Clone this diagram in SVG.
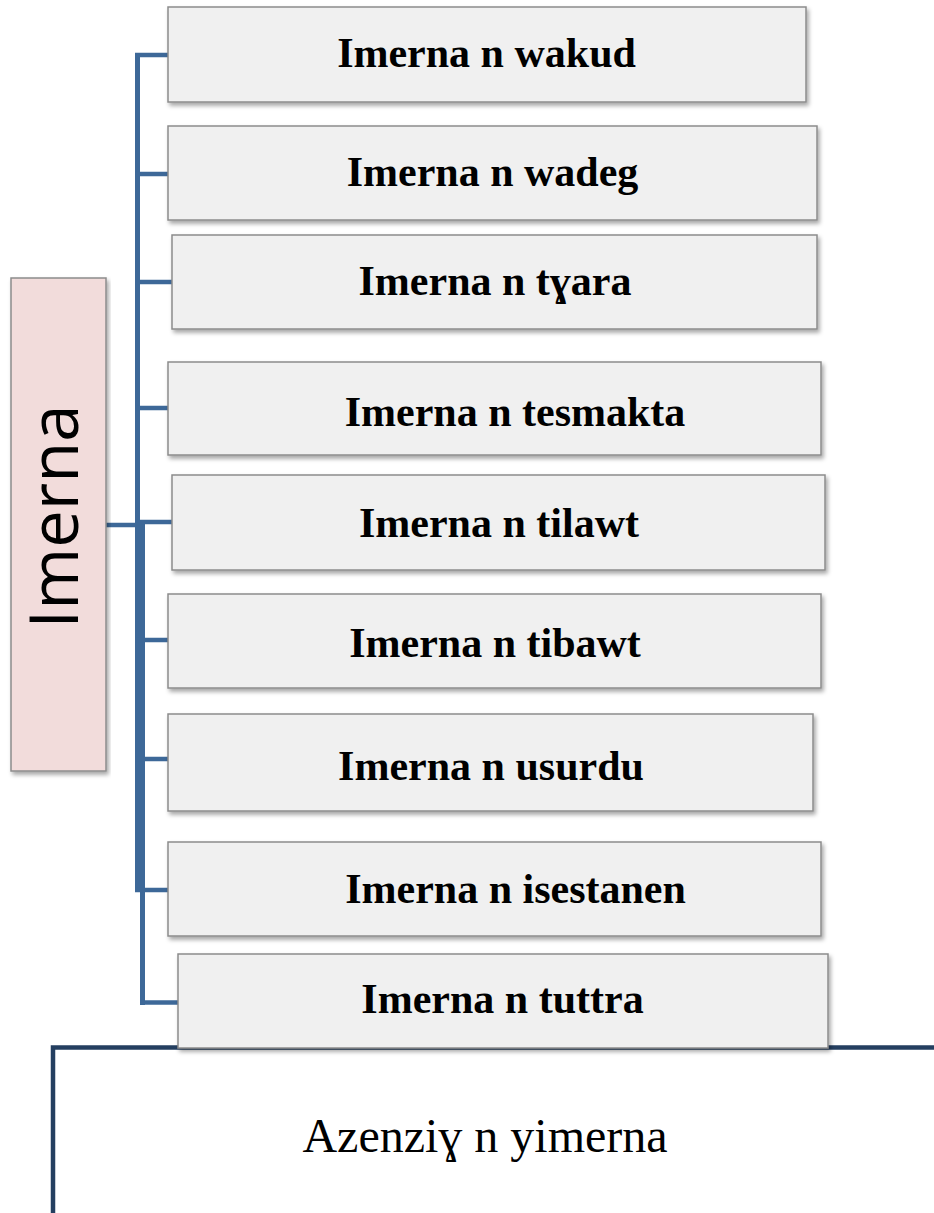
<svg xmlns="http://www.w3.org/2000/svg" width="934" height="1213" viewBox="0 0 934 1213">
<defs>
<filter id="sh" x="-5%" y="-10%" width="110%" height="130%">
<feDropShadow dx="2" dy="3" stdDeviation="2" flood-color="#000" flood-opacity="0.35"/>
</filter>
<style>
.box{fill:#f0f0f0;stroke:#8c8c8c;stroke-width:1.5;filter:url(#sh)}
.root{fill:#f2dcdb;stroke:#8c8c8c;stroke-width:1.5;filter:url(#sh)}
.lbl{font-family:"Liberation Serif","Times New Roman",serif;font-weight:bold;font-size:42px;fill:#000;text-anchor:middle}
.conn{fill:none;stroke:#3d6898;stroke-width:5;stroke-linejoin:miter}
.br{fill:none;stroke:#3d6898;stroke-width:4.5}
</style>
</defs>
<rect width="934" height="1213" fill="#fff"/>
<g id="frame">
<path d="M53,1213 V1047.5 H934" fill="none" stroke="#243f60" stroke-width="4.5"/>
<text x="485" y="1152" font-family="'Liberation Serif','Times New Roman',serif" font-size="48" text-anchor="middle" fill="#000">Azenziɣ n yimerna</text>
</g>
<g id="connectors">
<path class="conn" d="M137.5,53 V892"/>
<path class="conn" d="M142.5,523 V1005"/>
<path class="br" d="M106,525 H142"/>
<path class="br" d="M135,55 H168"/>
<path class="br" d="M135,174 H168"/>
<path class="br" d="M135,282 H172"/>
<path class="br" d="M135,408 H168"/>
<path class="br" d="M135,522 H172"/>
<path class="br" d="M135,640 H168"/>
<path class="br" d="M135,759 H168"/>
<path class="br" d="M135,890 H168"/>
<path class="br" d="M140,1002.5 H178"/>
</g>
<g id="root">
<rect class="root" x="11" y="278" width="95" height="493"/>
<text transform="translate(78,516.5) rotate(-90)" font-family="'Open Sans','Noto Sans',sans-serif" font-size="67" text-anchor="middle" fill="#000">Imerna</text>
</g>
<g id="n1"><rect class="box" x="168" y="7" width="638" height="95"/><text class="lbl" x="486.5" y="67">Imerna n wakud</text></g>
<g id="n2"><rect class="box" x="168" y="126" width="649" height="94"/><text class="lbl" x="492.5" y="186">Imerna n wadeg</text></g>
<g id="n3"><rect class="box" x="172" y="235" width="645" height="94"/><text class="lbl" x="495" y="295">Imerna n tɣara</text></g>
<g id="n4"><rect class="box" x="168" y="362" width="653" height="93"/><text class="lbl" x="515" y="426">Imerna n tesmakta</text></g>
<g id="n5"><rect class="box" x="172" y="475" width="653" height="95"/><text class="lbl" x="499" y="537">Imerna n tilawt</text></g>
<g id="n6"><rect class="box" x="168" y="594" width="653" height="94"/><text class="lbl" x="495" y="657">Imerna n tibawt</text></g>
<g id="n7"><rect class="box" x="168" y="714" width="645" height="97"/><text class="lbl" x="491" y="780">Imerna n usurdu</text></g>
<g id="n8"><rect class="box" x="168" y="842" width="653" height="94"/><text class="lbl" x="515.5" y="903">Imerna n isestanen</text></g>
<g id="n9"><rect class="box" x="178" y="954" width="650" height="94"/><text class="lbl" x="502.5" y="1013">Imerna n tuttra</text></g>
</svg>
